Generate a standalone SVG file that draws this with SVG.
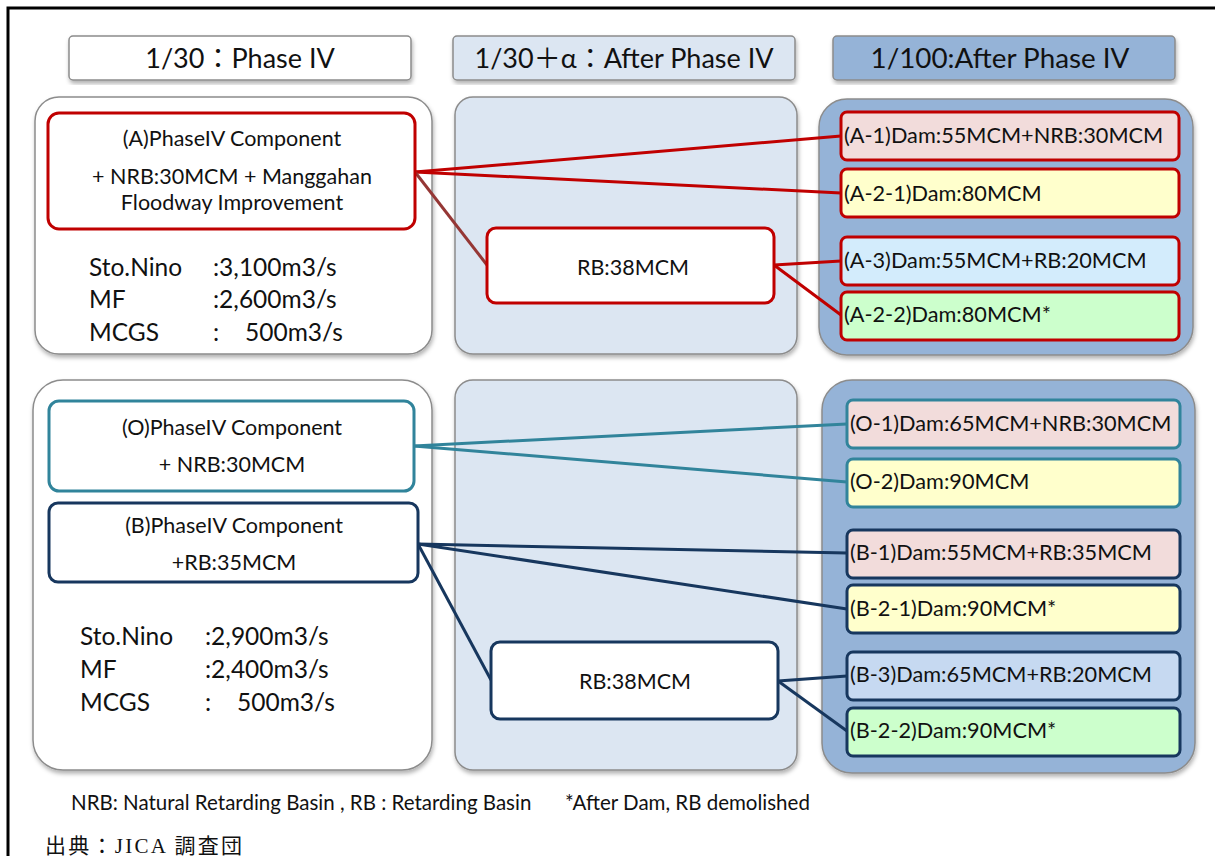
<svg xmlns="http://www.w3.org/2000/svg" width="1215" height="856" viewBox="0 0 1215 856">
  <style>
    text { font-family: Lato, "Liberation Sans", "Noto Sans CJK JP", sans-serif; fill: #111; }
    .hdr { font-size: 27px; text-anchor: middle; }
    .lbl { font-size: 21.5px; text-anchor: middle; }
    .stat { font-size: 24.5px; }
    .opt { font-size: 21.7px; }
    .note { font-size: 20.5px; }
    .src { font-family: "Liberation Serif", "Noto Sans CJK JP", serif; font-size: 21px; }
    .panel { stroke: #8c8c8c; stroke-width: 1.5; }
    .head { stroke: #8c8c8c; stroke-width: 1.5; }
    .red { stroke: #c00000; stroke-width: 3; }
    .teal { stroke: #31849b; stroke-width: 3; }
    .navy { stroke: #17375e; stroke-width: 3; }
    .white { fill: #ffffff; }
    .pale { fill: #dce6f2; }
    .mid { fill: #95b3d7; }
    .pink { fill: #f2dcdb; }
    .yellow { fill: #ffffcc; }
    .sky { fill: #d3ecfc; }
    .blue { fill: #c6d9f1; }
    .green { fill: #ccffcc; }
    .links line { stroke-width: 3; }
  </style>
  <defs>
    <filter id="shadow" x="-5%" y="-5%" width="110%" height="115%">
      <feDropShadow dx="1" dy="3" stdDeviation="2" flood-color="#000" flood-opacity="0.3"/>
    </filter>
  </defs>

  <rect width="1215" height="856" fill="#ffffff"/>
  <!-- frame -->
  <path d="M8,856 V8 H1215" fill="none" stroke="#000" stroke-width="3"/>

  <!-- column headings -->
  <g id="head-phase4">
    <rect x="69" y="36" width="342" height="44" rx="4" class="head white" filter="url(#shadow)"/>
    <text x="240" y="68" class="hdr">1/30：Phase IV</text>
  </g>
  <g id="head-alpha">
    <rect x="453" y="36" width="342" height="44" rx="4" class="head pale" filter="url(#shadow)"/>
    <text x="624" y="68" class="hdr">1/30＋α：After Phase IV</text>
  </g>
  <g id="head-100">
    <rect x="833" y="36" width="342" height="44" rx="4" class="head mid" filter="url(#shadow)"/>
    <text x="1000" y="68" class="hdr" style="font-size:27.8px">1/100:After Phase IV</text>
  </g>

  <!-- background panels -->
  <g id="panels">
    <rect x="35" y="97" width="397" height="257" rx="24" class="panel white" filter="url(#shadow)"/>
    <rect x="455" y="97" width="342" height="257" rx="18" class="panel pale" filter="url(#shadow)"/>
    <rect x="819" y="99" width="374" height="256" rx="28" class="panel mid" filter="url(#shadow)"/>
    <rect x="33" y="380" width="399" height="390" rx="30" class="panel white" filter="url(#shadow)"/>
    <rect x="455" y="380" width="342" height="390" rx="18" class="panel pale" filter="url(#shadow)"/>
    <rect x="822" y="380" width="373" height="393" rx="30" class="panel mid" filter="url(#shadow)"/>
  </g>

  <!-- connectors -->
  <g id="connectors" class="links">
    <line x1="415" y1="172" x2="841" y2="136" stroke="#c00000"/>
    <line x1="415" y1="172" x2="841" y2="193" stroke="#c00000"/>
    <line x1="415" y1="172" x2="487" y2="265" stroke="#953735"/>
    <line x1="774" y1="265" x2="841" y2="261" stroke="#c00000"/>
    <line x1="774" y1="265" x2="841" y2="315" stroke="#c00000"/>
    <line x1="414" y1="446" x2="847" y2="424" stroke="#31849b"/>
    <line x1="414" y1="446" x2="847" y2="482" stroke="#31849b"/>
    <line x1="418" y1="544" x2="847" y2="553" stroke="#17375e"/>
    <line x1="418" y1="544" x2="847" y2="609" stroke="#17375e"/>
    <line x1="418" y1="544" x2="491" y2="680" stroke="#17375e"/>
    <line x1="778" y1="681" x2="847" y2="676" stroke="#17375e"/>
    <line x1="778" y1="681" x2="847" y2="731" stroke="#17375e"/>
  </g>

  <!-- case A -->
  <g id="node-A">
    <rect x="48" y="113" width="367" height="116" rx="11" class="red white"/>
    <text x="232" y="146" class="lbl">(A)PhaseIV Component</text>
    <text x="232" y="184" class="lbl">+ NRB:30MCM + Manggahan</text>
    <text x="232" y="210" class="lbl">Floodway Improvement</text>
  </g>
  <g id="flow-A">
    <text x="89" y="276" class="stat">Sto.Nino</text>
    <text x="213" y="276" class="stat">:3,100m3/s</text>
    <text x="89" y="308" class="stat">MF</text>
    <text x="213" y="308" class="stat">:2,600m3/s</text>
    <text x="89" y="341" class="stat">MCGS</text>
    <text x="213" y="341" class="stat">:</text>
    <text x="245" y="341" class="stat">500m3/s</text>
  </g>
  <g id="node-RB-A">
    <rect x="487" y="228" width="287" height="75" rx="9" class="red white"/>
    <text x="633" y="275" class="lbl">RB:38MCM</text>
  </g>
  <g id="node-A-1">
    <rect x="841" y="112" width="338" height="48" rx="6" class="red pink"/>
    <text x="844" y="143" class="opt">(A-1)Dam:55MCM+NRB:30MCM</text>
  </g>
  <g id="node-A-2-1">
    <rect x="841" y="169" width="338" height="48" rx="6" class="red yellow"/>
    <text x="844" y="201" class="opt">(A-2-1)Dam:80MCM</text>
  </g>
  <g id="node-A-3">
    <rect x="841" y="237" width="338" height="48" rx="6" class="red sky"/>
    <text x="844" y="268" class="opt">(A-3)Dam:55MCM+RB:20MCM</text>
  </g>
  <g id="node-A-2-2">
    <rect x="841" y="292" width="338" height="48" rx="6" class="red green"/>
    <text x="844" y="322" class="opt">(A-2-2)Dam:80MCM*</text>
  </g>

  <!-- cases O and B -->
  <g id="node-O">
    <rect x="49" y="401" width="365" height="90" rx="10" class="teal white"/>
    <text x="232" y="435" class="lbl">(O)PhaseIV Component</text>
    <text x="232" y="472" class="lbl">+ NRB:30MCM</text>
  </g>
  <g id="node-B">
    <rect x="49" y="503" width="369" height="79" rx="9" class="navy white"/>
    <text x="234" y="533" class="lbl">(B)PhaseIV Component</text>
    <text x="234" y="570" class="lbl">+RB:35MCM</text>
  </g>
  <g id="flow-B">
    <text x="80" y="645" class="stat">Sto.Nino</text>
    <text x="205" y="645" class="stat">:2,900m3/s</text>
    <text x="80" y="678" class="stat">MF</text>
    <text x="205" y="678" class="stat">:2,400m3/s</text>
    <text x="80" y="711" class="stat">MCGS</text>
    <text x="205" y="711" class="stat">:</text>
    <text x="237" y="711" class="stat">500m3/s</text>
  </g>
  <g id="node-RB-B">
    <rect x="491" y="642" width="287" height="77" rx="9" class="navy white"/>
    <text x="635" y="689" class="lbl">RB:38MCM</text>
  </g>
  <g id="node-O-1">
    <rect x="847" y="400" width="333" height="48" rx="6" class="teal pink"/>
    <text x="850" y="431" class="opt">(O-1)Dam:65MCM+NRB:30MCM</text>
  </g>
  <g id="node-O-2">
    <rect x="847" y="459" width="333" height="48" rx="6" class="teal yellow"/>
    <text x="850" y="489" class="opt">(O-2)Dam:90MCM</text>
  </g>
  <g id="node-B-1">
    <rect x="847" y="530" width="333" height="48" rx="6" class="navy pink"/>
    <text x="850" y="560" class="opt">(B-1)Dam:55MCM+RB:35MCM</text>
  </g>
  <g id="node-B-2-1">
    <rect x="847" y="585" width="333" height="48" rx="6" class="navy yellow"/>
    <text x="850" y="616" class="opt">(B-2-1)Dam:90MCM*</text>
  </g>
  <g id="node-B-3">
    <rect x="847" y="652" width="333" height="48" rx="6" class="navy blue"/>
    <text x="850" y="682" class="opt">(B-3)Dam:65MCM+RB:20MCM</text>
  </g>
  <g id="node-B-2-2">
    <rect x="847" y="708" width="333" height="48" rx="6" class="navy green"/>
    <text x="850" y="738" class="opt">(B-2-2)Dam:90MCM*</text>
  </g>

  <!-- notes -->
  <text x="71" y="810" class="note">NRB: Natural Retarding Basin , RB : Retarding Basin</text>
  <text x="565" y="810" class="note">*After Dam, RB demolished</text>
  <text x="45" y="853" class="src" textLength="197">出典：JICA 調査団</text>
</svg>
